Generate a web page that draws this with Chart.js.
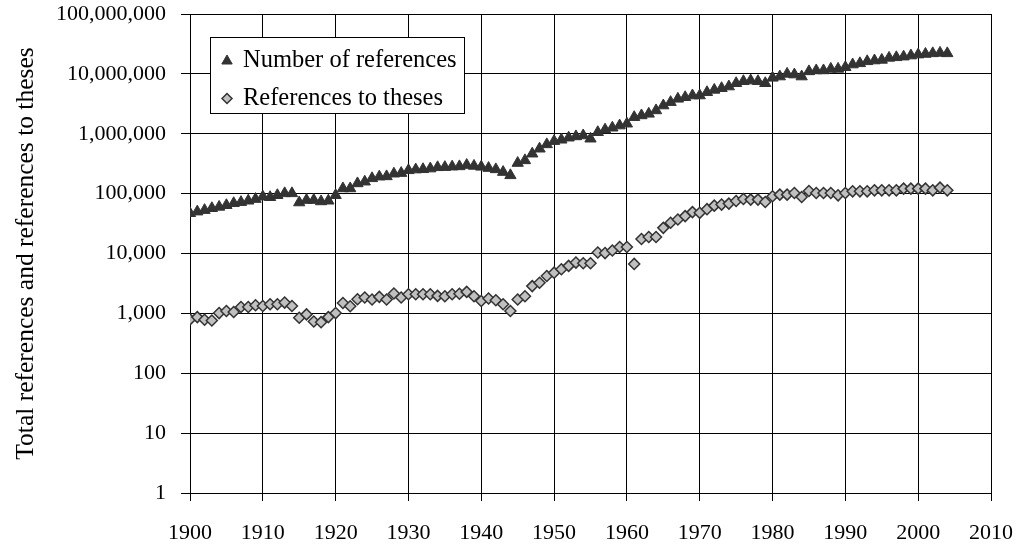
<!DOCTYPE html>
<html><head><meta charset="utf-8">
<script src="https://cdn.jsdelivr.net/npm/chart.js@4/dist/chart.umd.min.js"></script>
<style>html,body{margin:0;padding:0;background:#fff}#wrap{width:1019px;height:548px;position:relative}</style>
</head><body><div id="wrap"><canvas id="c" width="1019" height="548"></canvas></div>
<script>
const years = [1900,1901,1902,1903,1904,1905,1906,1907,1908,1909,
1910,1911,1912,1913,1914,1915,1916,1917,1918,1919,
1920,1921,1922,1923,1924,1925,1926,1927,1928,1929,
1930,1931,1932,1933,1934,1935,1936,1937,1938,1939,
1940,1941,1942,1943,1944,1945,1946,1947,1948,1949,
1950,1951,1952,1953,1954,1955,1956,1957,1958,1959,
1960,1961,1962,1963,1964,1965,1966,1967,1968,1969,
1970,1971,1972,1973,1974,1975,1976,1977,1978,1979,
1980,1981,1982,1983,1984,1985,1986,1987,1988,1989,
1990,1991,1992,1993,1994,1995,1996,1997,1998,1999,
2000,2001,2002,2003,2004];

const numberOfReferences = [47000,50000,53000,57000,60000,64000,69000,72000,76000,81000,
89000,87000,94000,101000,101000,71000,78000,78000,74000,76000,
94000,122000,122000,148000,158000,180000,192000,194000,215000,220000,
245000,252000,255000,262000,275000,277000,282000,285000,300000,290000,
280000,267000,254000,229000,202000,324000,359000,464000,562000,664000,
753000,793000,858000,902000,935000,826000,1060000,1170000,1260000,1370000,
1470000,1890000,2020000,2150000,2450000,2960000,3370000,3830000,4070000,4350000,
4350000,4930000,5400000,5760000,6140000,6970000,7530000,7730000,7530000,6970000,
8580000,9020000,10000000,9730000,9020000,11000000,11400000,11400000,12100000,12100000,
12900000,14300000,15000000,16200000,16700000,17100000,18500000,18900000,19400000,20200000,
21000000,21500000,22000000,22400000,22000000];

const referencesToTheses = [793,866,783,762,1012,1093,1052,1277,1277,1364,
1328,1418,1418,1514,1328,846,962,733,713,866,
1012,1492,1312,1722,1840,1703,1884,1703,2147,1840,
2090,2090,2090,2090,1958,1935,2090,2130,2285,1935,
1611,1770,1656,1418,1093,1703,1935,2852,3243,4205,
4783,5458,6207,7053,6890,6890,10400,10160,11240,12830,
12830,6700,17500,18900,18900,26800,32600,37000,42100,49100,
47800,55000,63000,65600,68100,75300,81300,79400,79400,72400,
90200,96200,96200,102300,87800,110500,102300,102300,102300,93700,
102300,109200,109200,109200,113500,113500,113500,113500,121200,121200,
121200,121200,113500,125900,113500];

const xTickValues = [1900,1910,1920,1930,1940,1950,1960,1970,1980,1990,2000,2010];
const yTickValues = [1,10,100,1000,10000,100000,1000000,10000000,100000000];

const FONT = '"Liberation Serif", "Times New Roman", serif';

const boxLegend = {
  id: 'boxLegend',
  afterDraw(chart) {
    const ctx = chart.ctx;
    ctx.save();
    ctx.fillStyle = '#fff';
    ctx.fillRect(210.5, 37.5, 254, 76);
    ctx.strokeStyle = '#000';
    ctx.lineWidth = 1;
    ctx.strokeRect(210.5, 37.5, 254, 76);
    const rows = [
      {ds: chart.data.datasets[0], cy: 61, base: 67, r: 6},
      {ds: chart.data.datasets[1], cy: 98.5, base: 105, r: 5}
    ];
    rows.forEach(row => {
      ctx.fillStyle = row.ds.backgroundColor;
      ctx.strokeStyle = row.ds.borderColor;
      ctx.lineWidth = row.ds.borderWidth;
      Chart.helpers.drawPoint(ctx, {pointStyle: row.ds.pointStyle, radius: row.r, borderWidth: row.ds.borderWidth, rotation: 0}, 227, row.cy);
      ctx.fillStyle = '#000';
      ctx.font = '24.5px ' + FONT;
      ctx.textBaseline = 'alphabetic';
      ctx.textAlign = 'left';
      ctx.fillText(row.ds.label, 243, row.base);
    });
    ctx.restore();
  }
};

new Chart(document.getElementById('c'), {
  type: 'scatter',
  data: {
    datasets: [
      {
        label: 'Number of references',
        data: years.map((yr, i) => ({x: yr, y: numberOfReferences[i]})),
        pointStyle: 'triangle', pointRadius: 6.5,
        backgroundColor: '#333333', borderColor: '#333333', borderWidth: 1
      },
      {
        label: 'References to theses',
        data: years.map((yr, i) => ({x: yr, y: referencesToTheses[i]})),
        pointStyle: 'rectRot', pointRadius: 5.5,
        backgroundColor: '#c0c0c0', borderColor: '#333333', borderWidth: 1.5
      }
    ]
  },
  options: {
    responsive: false, animation: false, devicePixelRatio: 1,
    layout: {padding: {top: 14, right: 28, bottom: 0, left: 0}},
    plugins: {legend: {display: false}, tooltip: {enabled: false}},
    scales: {
      x: {
        type: 'linear', min: 1900, max: 2010,
        afterBuildTicks: s => { s.ticks = xTickValues.map(v => ({value: v})); },
        afterFit: s => { s.height = 55; s.paddingLeft = 0; s.paddingRight = 0; },
        grid: {color: '#000', lineWidth: 1, tickLength: 8, drawTicks: true},
        border: {color: '#000', width: 1},
        ticks: {color: '#000', font: {family: FONT, size: 22}, padding: 19, maxRotation: 0, autoSkip: false, callback: v => String(v)}
      },
      y: {
        type: 'logarithmic', min: 1, max: 100000000,
        afterBuildTicks: s => { s.ticks = yTickValues.map(v => ({value: v})); },
        afterFit: s => { s.width = 190; s.paddingTop = 0; s.paddingBottom = 0; },
        grid: {color: '#000', lineWidth: 1, tickLength: 9, drawTicks: true},
        border: {color: '#000', width: 1},
        ticks: {color: '#000', font: {family: FONT, size: 22}, padding: 15, autoSkip: false, callback: v => Number(v).toLocaleString('en-US')},
        title: {display: true, text: 'Total references and references to theses', color: '#000', font: {family: FONT, size: 25.5}, padding: {top: 11, bottom: 0}}
      }
    }
  },
  plugins: [boxLegend]
});
</script>
</body></html>
